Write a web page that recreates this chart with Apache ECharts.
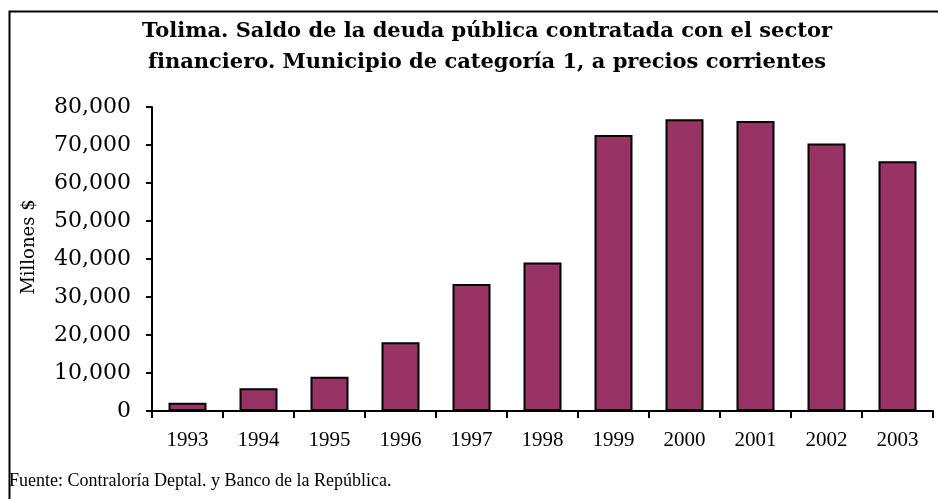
<!DOCTYPE html>
<html lang="es">
<head>
    <meta charset="UTF-8">
    <title>Tolima - Saldo de la deuda pública</title>
    <script src="https://cdn.jsdelivr.net/npm/echarts@6/dist/echarts.min.js"></script>
    <style>
        html, body { margin: 0; padding: 0; background: #fff; }
        #main { width: 938px; height: 499px; }
    </style>
</head>
<body>
<div id="main"></div>
<script type="text/javascript">
    // datos (millones de pesos)
    var years = ['1993', '1994', '1995', '1996', '1997', '1998', '1999', '2000', '2001', '2002', '2003'];
    var saldo = [2200, 6000, 9000, 18100, 33400, 39100, 72600, 76800, 76300, 70400, 65700];
    var yTicks = [0, 10000, 20000, 30000, 40000, 50000, 60000, 70000, 80000];

    var myChart = echarts.init(document.getElementById('main'));

    var option = {
        backgroundColor: '#fff',
        animation: false,
        title: {
            text: 'Tolima. Saldo de la deuda pública contratada con el sector\nfinanciero. Municipio de categoría 1, a precios corrientes',
            left: 482,
            top: 11,
            textAlign: 'center',
            textStyle: {
                fontFamily: 'DejaVu Serif',
                fontWeight: 'bold',
                fontSize: 21,
                lineHeight: 31,
                color: '#000'
            }
        },
        grid: {left: 152, right: 5, top: 107, bottom: 88},
        xAxis: {
            type: 'category',
            data: years,
            axisLine: {lineStyle: {color: '#000', width: 2}},
            axisTick: {show: true, length: 7, lineStyle: {color: '#000', width: 2}},
            axisLabel: {
                margin: 19,
                fontFamily: 'Liberation Serif',
                fontSize: 21,
                color: '#000'
            }
        },
        yAxis: {
            type: 'value',
            min: yTicks[0],
            max: yTicks[yTicks.length - 1],
            interval: 10000,
            name: 'Millones $',
            nameLocation: 'middle',
            nameGap: 114,
            nameTextStyle: {fontFamily: 'DejaVu Serif', fontSize: 18, color: '#000', padding: [0, 0, 0, 24]},
            axisLine: {show: true, lineStyle: {color: '#000', width: 2}},
            axisTick: {show: true, length: 6, lineStyle: {color: '#000', width: 2}},
            splitLine: {show: false},
            axisLabel: {
                margin: 21,
                fontFamily: 'DejaVu Serif',
                fontSize: 22,
                color: '#000',
                formatter: function (v) {
                    return v.toString().replace(/\B(?=(\d{3})+(?!\d))/g, ',');
                }
            }
        },
        series: [{
            type: 'bar',
            data: saldo,
            barWidth: 38,
            itemStyle: {color: '#993366', borderColor: '#000', borderWidth: 2}
        }],
        graphic: [
            {
                type: 'rect',
                left: 7, top: 9,
                shape: {width: 940, height: 500},
                style: {fill: 'none', stroke: '#000', lineWidth: 2}
            },
            {
                type: 'text',
                left: 9, top: 472,
                style: {
                    text: 'Fuente: Contraloría Deptal. y Banco de la República.',
                    font: '18px "Liberation Serif"',
                    fill: '#000'
                }
            }
        ]
    };

    myChart.setOption(option);
</script>
</body>
</html>
